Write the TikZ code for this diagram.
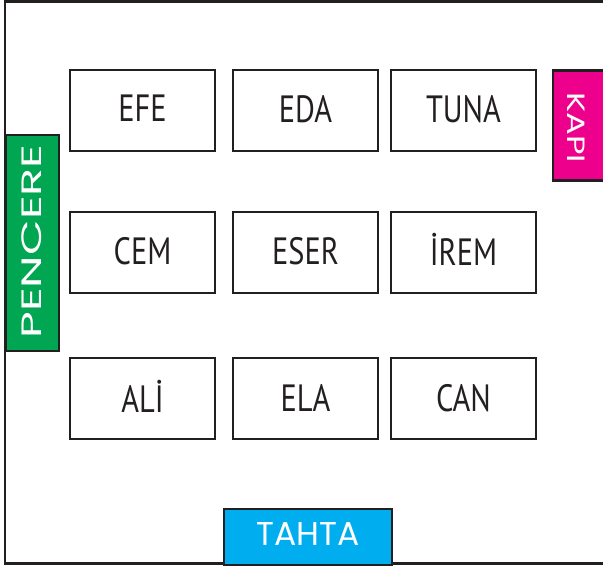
\documentclass[tikz,border=0pt]{standalone}
\usepackage{fontspec}
\setmainfont{PT Sans}
\newfontfamily\labelfont{Poppins}
\definecolor{frameblack}{HTML}{231F20}
\definecolor{pgreen}{HTML}{00A651}
\definecolor{pmagenta}{HTML}{EC008C}
\definecolor{pcyan}{HTML}{00AEEF}
\newcommand{\seatname}[2]{\raisebox{#1pt}{\scalebox{0.8}[1]{#2}}}
\tikzset{
  seat/.style={draw=frameblack, line width=2pt, fill=white, minimum width=145pt, minimum height=81pt, inner sep=0pt,
    font=\fontsize{38}{40}\selectfont, text=frameblack},
  tag/.style={draw=frameblack, line width=2.2pt, inner sep=0pt, text=white},
  wall/.style={draw=frameblack, line width=2.6pt}
}
\begin{document}
\begin{tikzpicture}[x=1pt,y=-1pt]
\useasboundingbox (0,0) rectangle (603,568);
\coordinate (tr) at (610,1.3);
\coordinate (tl) at (5,1.3);
\coordinate (bl) at (5,563.5);
\coordinate (br) at (610,563.5);
\draw[wall] (tr) -- (tl) -- (bl) -- (br);
% seats
\node[seat] (efe)  at (142.5,110.5) {\seatname{4}{EFE}};
\node[seat] (eda)  at (305.5,110.5) {\seatname{4}{EDA}};
\node[seat] (tuna) at (463.5,110.5) {\seatname{4}{TUNA}};
\node[seat] (cem)  at (142.5,252.5) {\seatname{2.5}{CEM}};
\node[seat] (eser) at (305.5,252.5) {\seatname{2.5}{ESER}};
\node[seat] (irem) at (463.5,252.5) {\seatname{5.5}{İREM}};
\node[seat] (ali)  at (142.5,398) {\seatname{2.5}{ALİ}};
\node[seat] (ela)  at (305.5,398) {\seatname{0}{ELA}};
\node[seat] (can)  at (463.5,398) {\seatname{0}{CAN}};
% window, door, board
\node[tag, fill=pgreen, minimum width=53pt, minimum height=216pt] (pencere) at (32.5,243) {};
\node[rotate=90, text=white, font=\labelfont\fontsize{28}{29}\selectfont] (pencereT) at (32,241.5) {\scalebox{1.65}[1]{PENCERE}};
\node[tag, fill=pmagenta, minimum width=54pt, minimum height=110pt] (kapi) at (580,125.5) {};
\node[rotate=-90, text=white, font=\labelfont\fontsize{25}{26}\selectfont] (kapiT) at (576.5,127.5) {\scalebox{1.35}[1]{KAPI}};
\node[tag, fill=pcyan, minimum width=168pt, minimum height=56pt] (tahta) at (308,537) {};
\node[text=white, font=\labelfont\fontsize{33}{34}\selectfont] (tahtaT) at (308,534) {TAHTA};
\end{tikzpicture}
\end{document}
